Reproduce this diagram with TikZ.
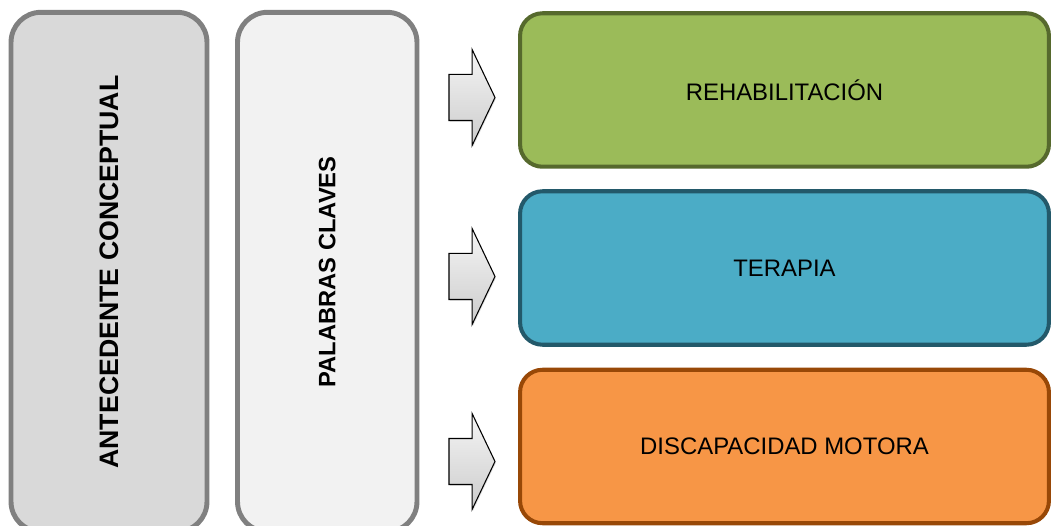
\documentclass[tikz,border=0pt]{standalone}
\usepackage{fontspec}
\setmainfont{Liberation Sans}
\usepackage{tikz}
\usetikzlibrary{shapes.arrows, shadows, positioning}
\definecolor{greyline}{HTML}{808080}
\definecolor{greyfill}{HTML}{D9D9D9}
\definecolor{lightfill}{HTML}{F2F2F2}
\definecolor{greenfill}{HTML}{9BBB59}
\definecolor{greenline}{HTML}{56692D}
\definecolor{bluefill}{HTML}{4BACC6}
\definecolor{blueline}{HTML}{23596A}
\definecolor{orangefill}{HTML}{F79646}
\definecolor{orangeline}{HTML}{984807}
\tikzset{
	sidebox/.style={rectangle, draw=greyline, line width=2.8pt, rounded corners=0.6cm, rotate=90, inner sep=0pt, align=center, font=\bfseries},
	keybox/.style={rectangle, line width=2.3pt, rounded corners=0.45cm, inner sep=0pt, align=center, minimum width=10.58cm, minimum height=3.07cm, font=\fontsize{13.6}{16}\selectfont},
	pointer/.style={single arrow, draw=black, line width=0.6pt, inner xsep=0pt, inner ysep=0.45cm, minimum height=0.92cm, single arrow head extend=0.5cm, single arrow tip angle=129, top color=gray!8, bottom color=gray!40, drop shadow={opacity=0.25, shadow xshift=0.6pt, shadow yshift=-0.6pt}}
}

\begin{document}
\begin{tikzpicture}[x=0.02cm, y=-0.02cm]
        \clip (0,0) rectangle (1052,526);
        \useasboundingbox (0,0) rectangle (1052,526);

        \node[sidebox, fill=greyfill, minimum width=10.39cm, minimum height=3.92cm, font=\bfseries\fontsize{15.2}{18}\selectfont] (antecedente) at (109,272) {ANTECEDENTE CONCEPTUAL};
        \node[sidebox, fill=lightfill, minimum width=10.39cm, minimum height=3.59cm, font=\bfseries\fontsize{13.5}{16}\selectfont] (claves) at (327.25,272) {PALABRAS CLAVES};

        \node[keybox, fill=greenfill, draw=greenline] (rehab) at (784.5,90) {REHABILITACIÓN};
        \node[keybox, fill=bluefill, draw=blueline] (terapia) at (784.5,268) {TERAPIA};
        \node[keybox, fill=orangefill, draw=orangeline] (discap) at (784.5,446.5) {DISCAPACIDAD MOTORA};

        \node[pointer] (ptrA) at (466.5,97.5) {};
        \node[pointer] (ptrB) at (466.5,276.5) {};
        \node[pointer] (ptrC) at (466.5,461.5) {};
    \end{tikzpicture}
\end{document}
